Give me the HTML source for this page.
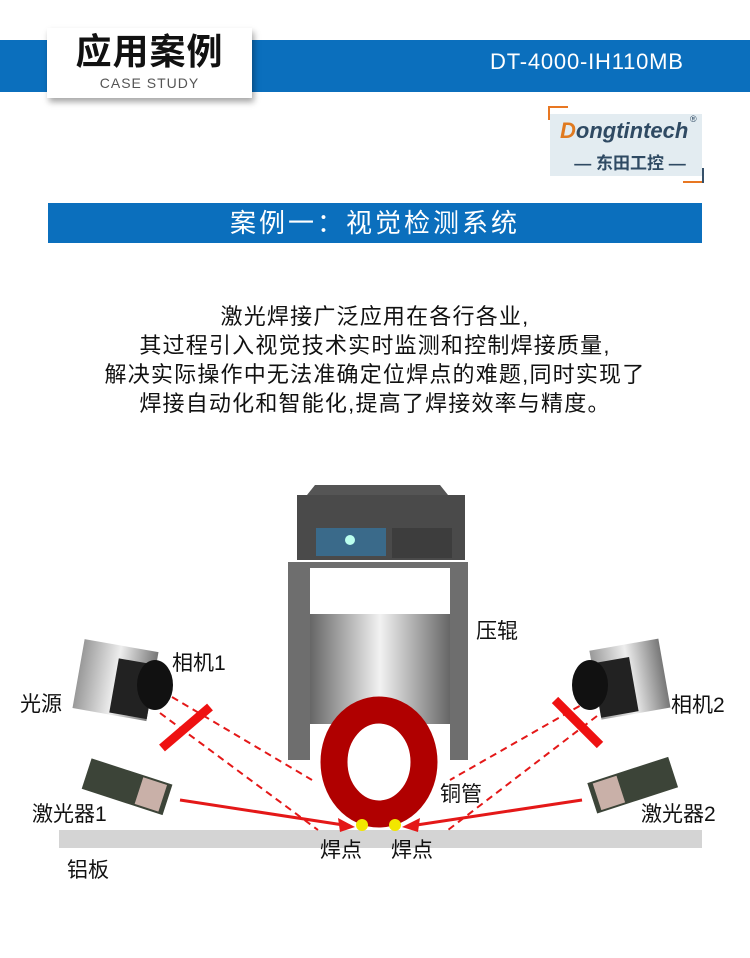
<!DOCTYPE html>
<html><head><meta charset="utf-8"><style>
body{margin:0;width:750px;height:958px;background:#fff;position:relative;overflow:hidden;font-family:"Liberation Sans","Noto Sans CJK SC",sans-serif}
.a{position:absolute}
</style></head><body>
<div class="a" style="left:0;top:40px;width:750px;height:52px;background:#0b6fbd"></div>
<div class="a" style="left:47px;top:28px;width:205px;height:70px;background:#fff;box-shadow:2px 4px 6px rgba(0,0,0,.35)"></div>
<div class="a" style="left:47px;top:30px;width:205px;text-align:center;font-size:36px;font-weight:bold;color:#111;line-height:44px;letter-spacing:1px">应用案例</div>
<div class="a" style="left:47px;top:75px;width:205px;text-align:center;font-size:14px;color:#555;letter-spacing:1px">CASE STUDY</div>
<div class="a" style="left:490px;top:49px;width:215px;font-size:22px;color:#fff;letter-spacing:0.8px">DT-4000-IH110MB</div>
<div class="a" style="left:550px;top:114px;width:152px;height:62px;background:#e3ecf1"></div>
<div class="a" style="left:548px;top:106px;width:20px;height:2px;background:#e87722"></div>
<div class="a" style="left:548px;top:106px;width:2px;height:14px;background:#e87722"></div>
<div class="a" style="left:683px;top:181px;width:20px;height:2px;background:#e87722"></div>
<div class="a" style="left:702px;top:168px;width:2px;height:15px;background:#36516a"></div>
<div class="a" style="left:560px;top:118px;font-size:22px;font-style:italic;font-weight:bold;color:#2f4a63"><span style="color:#e07a20">D</span>ongtintech</div>
<div class="a" style="left:690px;top:114px;font-size:9px;color:#2f4a63">®</div>
<div class="a" style="left:560px;top:149px;width:140px;text-align:center;font-size:17px;font-weight:bold;color:#2f4a63">— 东田工控 —</div>
<div class="a" style="left:48px;top:203px;width:654px;height:40px;background:#0b6fbd;color:#fff;font-size:26px;text-align:center;line-height:40px;letter-spacing:3px">案例一：视觉检测系统</div>
<div class="a" style="left:0;top:302px;width:750px;text-align:center;font-size:22px;line-height:29px;color:#111;letter-spacing:1.2px">激光焊接广泛应用在各行各业,<br>其过程引入视觉技术实时监测和控制焊接质量,<br>解决实际操作中无法准确定位焊点的难题,同时实现了<br>焊接自动化和智能化,提高了焊接效率与精度。</div>
<svg class="a" style="left:0;top:0" width="750" height="958">
<defs><linearGradient id="g" x1="0" x2="1"><stop offset="0" stop-color="#666"/><stop offset=".5" stop-color="#f2f2f2"/><stop offset="1" stop-color="#666"/></linearGradient>
<linearGradient id="c" x1="0" x2="1"><stop offset="0" stop-color="#999"/><stop offset=".5" stop-color="#eee"/><stop offset="1" stop-color="#777"/></linearGradient></defs>
<polygon points="307,495 315,485 440,485 448,495" fill="#555"/>
<rect x="297" y="495" width="168" height="65" fill="#4a4a4a"/>
<rect x="316" y="528" width="70" height="28" fill="#3a6a8a"/>
<circle cx="350" cy="540" r="5" fill="#bfe" />
<rect x="392" y="528" width="60" height="30" fill="#3d3d3d"/>
<rect x="288" y="562" width="180" height="198" fill="#6e6e6e"/>
<rect x="310" y="568" width="140" height="46" fill="#fff"/>
<rect x="310" y="614" width="140" height="110" fill="url(#g)"/>
<rect x="310" y="724" width="140" height="40" fill="#fff"/>
<rect x="59" y="830" width="643" height="18" fill="#d4d4d4"/>
<ellipse cx="379" cy="762" rx="45" ry="52" fill="none" stroke="#b00000" stroke-width="27"/>
<g stroke="#e41818" stroke-width="2" stroke-dasharray="7,5" fill="none">
<line x1="172" y1="697" x2="312" y2="780"/><line x1="160" y1="713" x2="318" y2="830"/>
<line x1="590" y1="700" x2="450" y2="780"/><line x1="597" y1="716" x2="448" y2="830"/>
</g>
<line x1="162" y1="748" x2="210" y2="707" stroke="#ee1111" stroke-width="9"/>
<line x1="555" y1="700" x2="600" y2="745" stroke="#ee1111" stroke-width="9"/>
<line x1="180" y1="800" x2="350" y2="826" stroke="#e41818" stroke-width="3"/>
<line x1="582" y1="800" x2="410" y2="826" stroke="#e41818" stroke-width="3"/>
<polygon points="355,827 338,818 340,832" fill="#e41818"/>
<polygon points="402,827 420,818 418,832" fill="#e41818"/>
<circle cx="362" cy="825" r="6" fill="#f2e600"/><circle cx="395" cy="825" r="6" fill="#f2e600"/>
<g transform="rotate(10 115 680)"><rect x="78" y="645" width="75" height="70" fill="url(#c)"/><rect x="115" y="658" width="38" height="55" fill="#222"/></g>
<ellipse cx="155" cy="685" rx="18" ry="25" fill="#111"/>
<g transform="rotate(-10 625 680)"><rect x="595" y="645" width="70" height="70" fill="url(#c)"/><rect x="595" y="658" width="38" height="55" fill="#222"/></g>
<ellipse cx="590" cy="685" rx="18" ry="25" fill="#111"/>
<g transform="rotate(18 125 785)"><rect x="85" y="770" width="85" height="32" fill="#3c4438"/><rect x="140" y="772" width="25" height="28" fill="#c9b0a8"/></g>
<g transform="rotate(-18 630 785)"><rect x="590" y="770" width="85" height="32" fill="#3c4438"/><rect x="595" y="772" width="25" height="28" fill="#c9b0a8"/></g>
<g font-size="21" fill="#111" font-family="Liberation Sans,Noto Sans CJK SC,sans-serif">
<text x="476" y="638">压辊</text><text x="172" y="670">相机1</text><text x="20" y="711">光源</text>
<text x="671" y="712">相机2</text><text x="440" y="801">铜管</text><text x="32" y="821">激光器1</text>
<text x="641" y="821">激光器2</text><text x="320" y="857">焊点</text><text x="391" y="857">焊点</text><text x="67" y="877">铝板</text>
</g>
</svg>
</body></html>
